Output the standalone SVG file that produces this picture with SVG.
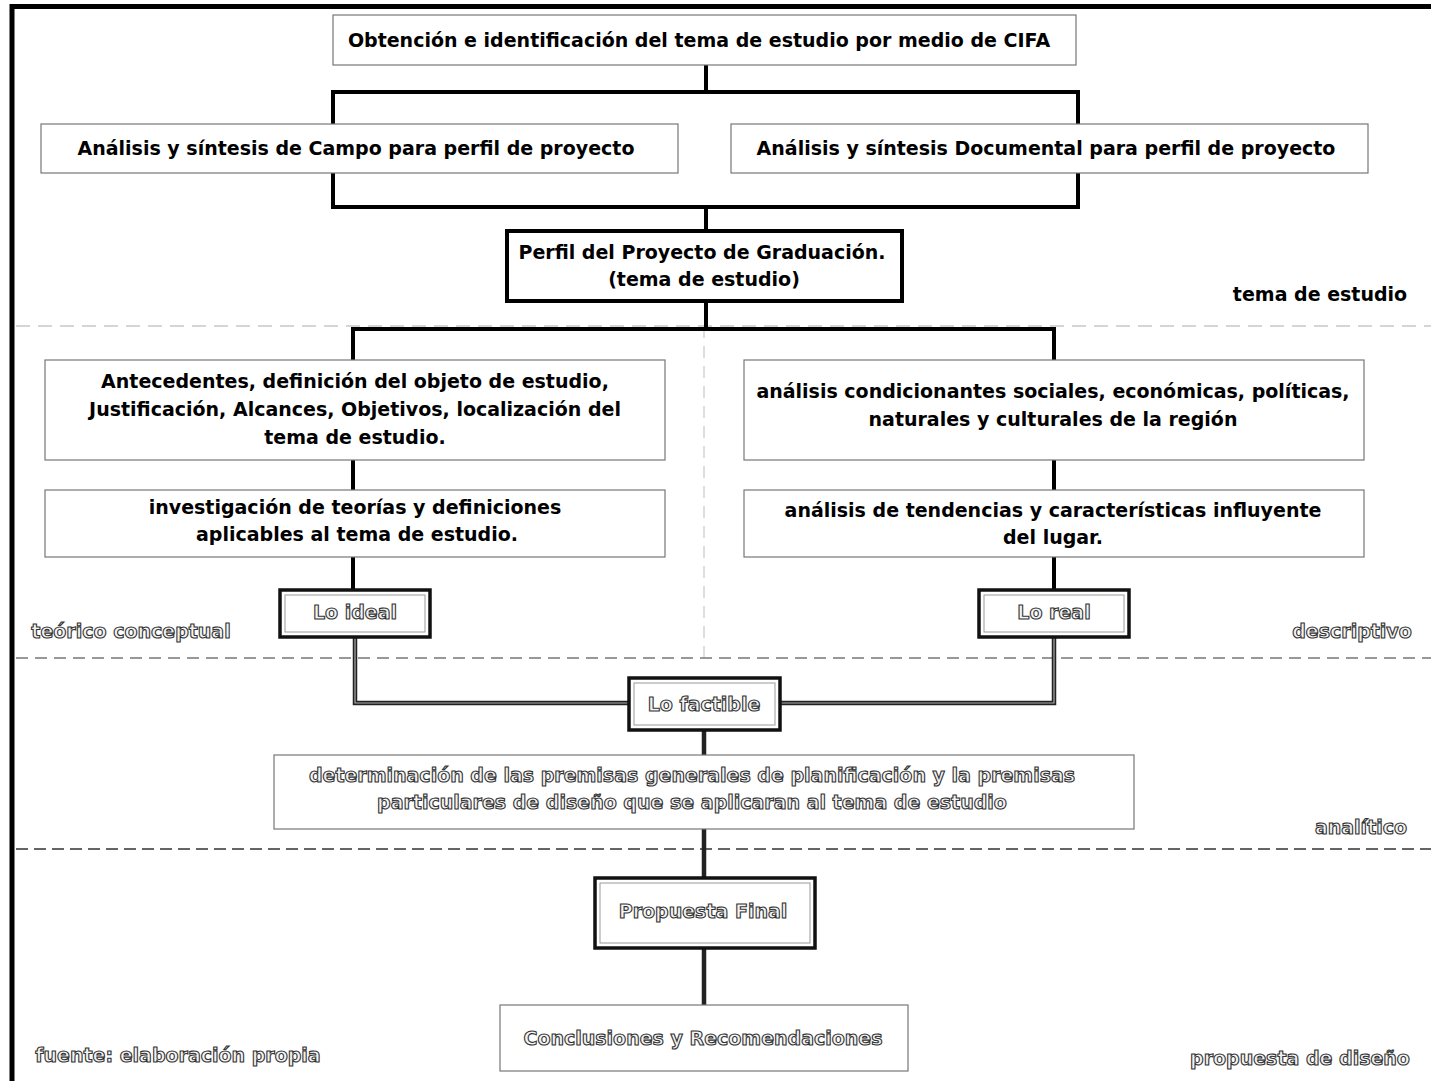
<svg xmlns="http://www.w3.org/2000/svg" width="1431" height="1081" viewBox="0 0 1431 1081">
<style>
.b{fill:#fff;stroke:#777;stroke-width:1.2}
.tb{fill:#fff;stroke:#000;stroke-width:4}
.t{font-family:"DejaVu Sans",Verdana,sans-serif;font-weight:bold;font-size:19px;fill:#000;text-anchor:middle}
.o{font-family:"DejaVu Sans",Verdana,sans-serif;font-weight:bold;font-size:19px;fill:#f4f4f4;stroke:#333;stroke-width:1.1;text-anchor:middle}
.c{fill:none;stroke:#000;stroke-width:4}
.c2{fill:none;stroke:#222;stroke-width:4.5}
.c2i{fill:none;stroke:#aaa;stroke-width:1.2}
.ob{fill:#fff;stroke:#111;stroke-width:3.5}
.obi{fill:none;stroke:#999;stroke-width:1}
</style>
<rect width="1431" height="1081" fill="#fff"/>
<path d="M12,1081 V6.5 H1431" fill="none" stroke="#000" stroke-width="5"/>
<g id="separators">
<line x1="16" y1="326" x2="1431" y2="326" stroke="#c8c8c8" stroke-width="1.5" stroke-dasharray="14,8"/>
<line x1="704" y1="326" x2="704" y2="658" stroke="#c8c8c8" stroke-width="1.2" stroke-dasharray="12,8"/>
<line x1="16" y1="658" x2="1431" y2="658" stroke="#777" stroke-width="1.3" stroke-dasharray="12,7"/>
<line x1="16" y1="849" x2="1431" y2="849" stroke="#333" stroke-width="1.6" stroke-dasharray="12,6"/>
</g>
<g id="connectors">
<path class="c" d="M706,65 V92"/>
<rect x="333" y="92" width="745" height="115" fill="none" stroke="#000" stroke-width="4"/>
<path class="c" d="M706,207 V231"/>
<path class="c" d="M706,301 V329 M353,360 V329 H1054 V360"/>
<path class="c" d="M353,460 V490 M1054,460 V490"/>
<path class="c" d="M353,557 V590 M1054,557 V590"/>
<path class="c2" d="M355,637 V703 H629 M1054,637 V703 H780 M704,730 V755 M704,829 V878 M704,948 V1005"/>
<path class="c2i" d="M355,637 V703 H629 M1054,637 V703 H780"/>
</g>
<g id="n1"><rect class="b" x="333" y="15" width="743" height="50"/><text class="t" x="699" y="47">Obtención e identificación del tema de estudio por medio de CIFA</text></g>
<g id="n2"><rect class="b" x="41" y="124" width="637" height="49"/><text class="t" x="356" y="155">Análisis y síntesis de Campo para perfil de proyecto</text></g>
<g id="n3"><rect class="b" x="731" y="124" width="637" height="49"/><text class="t" x="1046" y="155">Análisis y síntesis Documental para perfil de proyecto</text></g>
<g id="n4"><rect class="tb" x="507" y="231" width="395" height="70"/><text class="t" x="702" y="259">Perfil del Proyecto de Graduación.</text><text class="t" x="704" y="286">(tema de estudio)</text></g>
<g id="l1"><text class="t" x="1320" y="301">tema de estudio</text></g>
<g id="n5"><rect class="b" x="45" y="360" width="620" height="100"/><text class="t" x="355" y="388">Antecedentes, definición del objeto de estudio,</text><text class="t" x="355" y="416">Justificación, Alcances, Objetivos, localización del</text><text class="t" x="355" y="444">tema de estudio.</text></g>
<g id="n6"><rect class="b" x="744" y="360" width="620" height="100"/><text class="t" x="1053" y="398">análisis condicionantes sociales, económicas, políticas,</text><text class="t" x="1053" y="426">naturales y culturales de la región</text></g>
<g id="n7"><rect class="b" x="45" y="490" width="620" height="67"/><text class="t" x="355" y="514">investigación de teorías y definiciones</text><text class="t" x="357" y="541">aplicables al tema de estudio.</text></g>
<g id="n8"><rect class="b" x="744" y="490" width="620" height="67"/><text class="t" x="1053" y="517">análisis de tendencias y características influyente</text><text class="t" x="1053" y="544">del lugar.</text></g>
<g id="n9"><rect class="ob" x="280" y="590" width="150" height="47"/><rect class="obi" x="285" y="595" width="140" height="37"/><text class="o" x="355" y="619">Lo ideal</text></g>
<g id="n10"><rect class="ob" x="979" y="590" width="150" height="47"/><rect class="obi" x="984" y="595" width="140" height="37"/><text class="o" x="1054" y="619">Lo real</text></g>
<g id="l2"><text class="o" x="131" y="638">teórico conceptual</text></g>
<g id="l3"><text class="o" x="1352" y="638">descriptivo</text></g>
<g id="n11"><rect class="ob" x="629" y="678" width="151" height="52"/><rect class="obi" x="634" y="683" width="141" height="42"/><text class="o" x="704" y="711">Lo factible</text></g>
<g id="n12"><rect class="b" x="274" y="755" width="860" height="74"/><text class="o" x="692" y="782">determinación de las premisas generales de planificación y la premisas</text><text class="o" x="692" y="809">particulares de diseño que se aplicaran al tema de estudio</text></g>
<g id="l4"><text class="o" x="1361" y="834">analítico</text></g>
<g id="n13"><rect class="ob" x="595" y="878" width="220" height="70"/><rect class="obi" x="600" y="883" width="210" height="60"/><text class="o" x="703" y="918">Propuesta Final</text></g>
<g id="n14"><rect class="b" x="500" y="1005" width="408" height="66"/><text class="o" x="703" y="1045">Conclusiones y Recomendaciones</text></g>
<g id="l5"><text class="o" x="178" y="1062">fuente: elaboración propia</text></g>
<g id="l6"><text class="o" x="1300" y="1065">propuesta de diseño</text></g>
</svg>
